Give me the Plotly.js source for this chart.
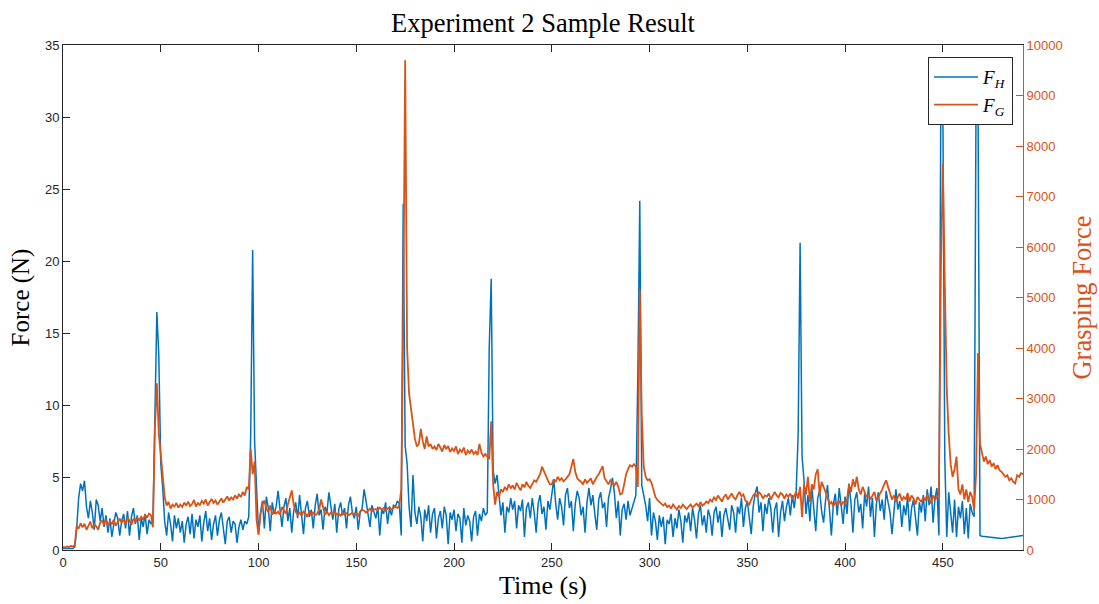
<!DOCTYPE html>
<html>
<head>
<meta charset="utf-8">
<script src="https://cdn.plot.ly/plotly-3.0.1.min.js"></script>
<style>
html,body{margin:0;padding:0;background:#fff;}
#chart{width:1099px;height:604px;}
</style>
</head>
<body>
<div id="chart"></div>
<script>
// Sampling of both series (seconds)
const timeStart = 0;
const timeStep = 1;

// Hand force F_H (N), one value per second from t = 0 s
const forceH = [
  0.1,0.1,0.12,0.1,0.15,0.1,0.2,1.5,3.6,4.6,
  4.1,4.8,3.0,2.2,3.4,2.6,1.4,3.5,3.1,2.0,
  2.9,1.6,2.4,1.2,2.2,0.9,1.8,2.6,2.2,1.0,
  2.0,2.5,1.5,2.7,1.0,2.3,2.9,1.8,2.4,0.7,
  2.2,1.6,2.5,1.1,2.1,1.8,2.0,9.0,16.5,13.5,
  6.0,4.3,2.0,1.0,2.6,1.8,0.6,2.4,1.5,2.2,
  1.2,2.0,0.5,1.8,2.3,1.1,2.5,0.8,2.1,1.6,
  2.4,0.6,1.9,2.7,1.3,2.2,0.7,1.8,2.4,1.0,
  2.1,2.6,1.4,0.4,2.0,2.3,1.2,2.0,1.8,0.5,
  1.6,2.1,1.4,2.0,1.8,2.3,8.0,20.8,7.5,4.6,
  1.2,2.6,3.4,1.5,3.7,2.9,1.3,3.3,2.5,3.0,
  4.1,2.8,1.6,3.0,3.6,2.0,2.9,1.2,2.7,3.3,
  2.2,3.8,2.5,1.1,2.9,3.4,2.3,2.8,1.5,3.1,
  3.9,2.4,2.8,1.4,3.0,2.6,4.0,2.9,2.1,3.2,
  1.2,2.8,3.3,2.4,2.9,1.5,3.1,3.7,2.6,2.2,
  3.0,1.4,2.6,2.9,4.2,3.4,2.4,1.6,3.1,2.7,
  2.2,3.0,1.0,2.8,2.5,3.3,1.8,2.9,2.4,3.1,
  3.0,3.4,3.2,1.0,24.0,7.2,6.0,3.0,1.6,5.2,
  2.6,1.8,3.0,2.3,0.6,2.8,2.0,3.1,1.2,2.5,
  2.9,0.8,2.2,2.7,1.5,3.0,2.4,0.4,2.6,2.1,
  2.8,1.3,2.5,2.2,0.5,2.9,1.7,2.4,2.0,0.6,
  2.3,2.7,1.0,2.5,2.0,2.9,2.4,2.6,14.0,18.8,
  5.5,4.6,5.2,3.8,2.4,3.3,1.2,3.0,2.6,3.6,
  2.8,3.4,1.5,3.1,2.7,3.5,0.9,2.9,3.3,2.2,
  3.6,2.6,1.2,3.2,3.8,2.5,3.0,1.4,3.4,2.8,
  3.9,4.9,3.2,2.1,3.6,3.0,1.7,3.8,4.3,2.9,
  3.4,1.3,3.2,4.1,3.6,2.4,3.0,1.2,3.3,4.3,
  3.1,3.8,2.5,1.4,3.5,4.0,2.9,3.3,1.6,3.6,
  4.2,5.0,4.0,2.2,3.4,1.0,2.8,3.2,2.1,3.4,
  2.4,2.9,3.4,3.8,12.0,24.2,4.5,3.8,3.1,2.0,
  3.6,1.0,2.6,2.0,0.7,2.4,1.6,2.3,0.4,2.1,
  1.8,2.5,0.9,2.2,1.5,2.8,2.0,0.5,2.4,1.9,
  2.6,1.3,2.9,2.1,0.8,2.5,3.1,1.7,2.4,1.2,
  2.8,2.3,1.0,2.6,3.0,1.9,2.7,0.9,2.4,2.9,
  2.2,1.4,3.1,2.6,1.2,3.0,2.5,3.6,1.6,2.9,
  3.4,2.2,1.1,3.0,3.9,4.4,2.6,3.3,1.3,3.2,
  2.5,3.6,2.9,1.2,2.8,3.3,0.9,2.6,3.4,2.0,
  3.0,3.6,2.4,3.8,2.9,4.1,8.0,21.3,6.5,4.8,
  2.5,3.8,2.0,4.4,3.0,1.3,3.6,4.1,2.7,1.9,
  3.4,4.5,2.8,1.0,3.2,3.9,2.4,4.3,3.1,1.8,
  3.7,2.5,4.6,3.3,1.2,3.5,4.0,2.6,3.2,1.5,
  3.9,3.0,4.4,2.3,3.6,0.9,3.2,4.0,2.7,3.5,
  2.1,4.1,3.3,2.6,1.1,3.0,4.2,2.8,3.4,1.6,
  3.1,2.4,3.7,1.3,2.9,3.5,2.2,1.0,3.3,2.6,
  3.8,2.0,4.2,3.1,4.4,1.9,3.6,4.3,1.0,32.0,
  31.0,6.4,0.9,4.0,2.6,1.2,3.5,0.9,3.0,2.2,
  3.4,1.1,2.9,0.8,3.2,2.6,2.3,32.0,31.0,1.0,
  0.95,0.93,0.92,0.9,0.91,0.89,0.88,0.86,0.84,0.82,
  0.8,0.81,0.83,0.85,0.87,0.9,0.92,0.94,0.96,0.98,
  1.0,1.0
];

// Grasping force F_G, one value per second from t = 0 s
const forceG = [
  60,50,70,60,80,70,90,480,420,530,
  450,520,400,480,560,430,510,470,400,540,
  580,500,610,470,560,520,600,480,550,620,
  540,600,520,650,580,500,620,560,640,590,
  660,600,700,640,720,690,450,2400,3300,2300,
  1900,1500,1050,880,950,820,900,860,930,840,
  900,850,940,880,960,870,910,990,860,930,
  890,970,920,1000,880,950,1010,930,980,900,
  960,1020,940,1000,1060,980,1040,1000,1080,1020,
  1100,1050,1150,1080,1250,1200,2000,1500,1750,600,
  300,700,900,980,820,750,880,700,780,720,
  760,700,850,780,720,900,1050,1180,900,760,
  700,740,680,760,720,650,780,700,740,690,
  720,800,1000,820,700,760,690,740,710,760,
  700,720,680,750,700,730,690,710,740,700,
  720,680,760,800,780,740,790,820,770,800,
  810,790,840,800,830,780,820,850,800,840,
  860,830,880,1200,4500,9700,4000,3100,2800,2400,
  2200,2050,2100,2400,2150,2000,2250,2050,2100,2000,
  2050,1980,2100,2030,1950,2080,2000,2060,1940,2010,
  1960,2050,1900,1990,1940,2030,1880,1970,1920,1990,
  1900,1950,1880,2100,1930,1850,1900,1850,1800,2550,
  1300,900,1150,1050,1200,1150,1250,1180,1300,1220,
  1280,1200,1330,1250,1180,1300,1240,1350,1270,1230,
  1300,1380,1350,1420,1500,1650,1550,1450,1380,1300,
  1300,1400,1350,1450,1380,1420,1360,1400,1450,1500,
  1650,1800,1550,1420,1380,1350,1300,1400,1330,1380,
  1420,1300,1380,1450,1500,1600,1660,1420,1350,1300,
  1380,1320,1280,1350,1250,1100,1120,1300,1500,1600,
  1680,1650,1700,1650,1250,5150,2700,1650,1450,1380,
  1400,1330,1200,1050,990,950,900,880,920,850,
  880,820,900,850,800,870,830,900,860,810,
  860,900,840,880,920,870,950,880,910,960,
  930,1000,960,1050,980,1080,1020,960,1050,1100,
  1000,1070,1120,1040,1000,1090,1150,1060,1100,980,
  940,900,1000,1080,1120,1050,1150,1100,1020,1080,
  1060,1120,1000,1090,1150,1080,1040,1130,1100,1020,
  1100,1050,1120,1000,1080,1150,1020,1250,650,1300,
  1100,1450,950,1300,1200,1500,1600,1100,1350,1250,
  1150,1050,900,950,870,940,900,980,880,950,
  920,1000,1300,1150,1400,1250,1450,1200,1100,1250,
  1150,1050,1100,1000,1080,1150,980,1050,1100,1200,
  1300,1380,1250,1100,1000,1080,950,1050,1120,980,
  1050,1000,1130,960,1080,1020,900,1050,1000,950,
  1050,980,1100,1000,920,1080,1000,1050,1100,5500,
  7650,5300,3200,2300,1700,1450,1600,1850,1200,1100,
  1300,1000,1200,950,1150,1050,800,1500,3900,2100,
  1900,1750,1850,1700,1780,1650,1720,1600,1680,1580,
  1550,1500,1450,1480,1380,1420,1350,1320,1480,1450,
  1520,1500
];

const xTickVals = [0,50,100,150,200,250,300,350,400,450];
const yTickVals = [0,5,10,15,20,25,30,35];
const y2TickVals = [0,1000,2000,3000,4000,5000,6000,7000,8000,9000,10000];

const blue = '#0072BD';
const orange = '#D95319';
const axisGray = '#262626';
const serif = '"Liberation Serif", "DejaVu Serif", serif';
const sans = '"Liberation Sans", Arial, sans-serif';

const traces = [
  {
    type: 'scatter', mode: 'lines',
    x0: timeStart, dx: timeStep, y: forceH,
    name: '<i>F</i><sub><i>H</i></sub>',
    line: {color: blue, width: 1.5},
    xaxis: 'x', yaxis: 'y'
  },
  {
    type: 'scatter', mode: 'lines',
    x0: timeStart, dx: timeStep, y: forceG,
    name: '<i>F</i><sub><i>G</i></sub>',
    line: {color: orange, width: 1.8},
    xaxis: 'x', yaxis: 'y2'
  }
];

const layout = {
  width: 1099, height: 604,
  paper_bgcolor: '#ffffff', plot_bgcolor: '#ffffff',
  margin: {l: 63, r: 76, t: 45, b: 54, pad: 0},
  showlegend: true,
  title: {
    text: 'Experiment 2 Sample Result',
    font: {family: serif, size: 26.5, color: '#000'},
    xref: 'paper', x: 0.5, xanchor: 'center',
    yref: 'container', y: 0.962, yanchor: 'middle'
  },
  xaxis: {
    range: [0, 491],
    tickvals: xTickVals,
    ticks: 'inside', ticklen: 7, tickwidth: 1, tickcolor: axisGray,
    showline: true, linecolor: axisGray, linewidth: 1,
    mirror: 'ticks',
    showgrid: false, zeroline: false,
    tickfont: {family: sans, size: 13, color: axisGray},
    title: {text: 'Time (s)', font: {family: serif, size: 26, color: '#000'}, standoff: 7},
    automargin: false
  },
  yaxis: {
    range: [0, 35],
    tickvals: yTickVals,
    ticks: 'inside', ticklen: 7, tickwidth: 1, tickcolor: axisGray,
    showline: true, linecolor: axisGray, linewidth: 1,
    mirror: false,
    showgrid: false, zeroline: false,
    tickfont: {family: sans, size: 13, color: axisGray},
    title: {text: 'Force (N)', font: {family: serif, size: 25, color: '#000'}, standoff: 8},
    automargin: false
  },
  yaxis2: {
    range: [0, 10000],
    tickvals: y2TickVals,
    tickformat: 'd',
    overlaying: 'y', side: 'right',
    ticks: 'inside', ticklen: 7, tickwidth: 1, tickcolor: orange,
    showline: true, linecolor: orange, linewidth: 1,
    showgrid: false, zeroline: false,
    tickfont: {family: sans, size: 13, color: orange},
    title: {text: 'Grasping Force', font: {family: serif, size: 26.5, color: orange}, standoff: 10},
    automargin: false
  },
  legend: {
    x: 0.9896, xanchor: 'right', xref: 'paper',
    y: 0.976, yanchor: 'top', yref: 'paper',
    bgcolor: '#ffffff', bordercolor: axisGray, borderwidth: 1,
    font: {family: serif, size: 19, color: '#000'},
    tracegroupgap: 0, itemwidth: 44
  }
};

Plotly.newPlot('chart', traces, layout, {displayModeBar: false, staticPlot: true});
</script>
</body>
</html>
